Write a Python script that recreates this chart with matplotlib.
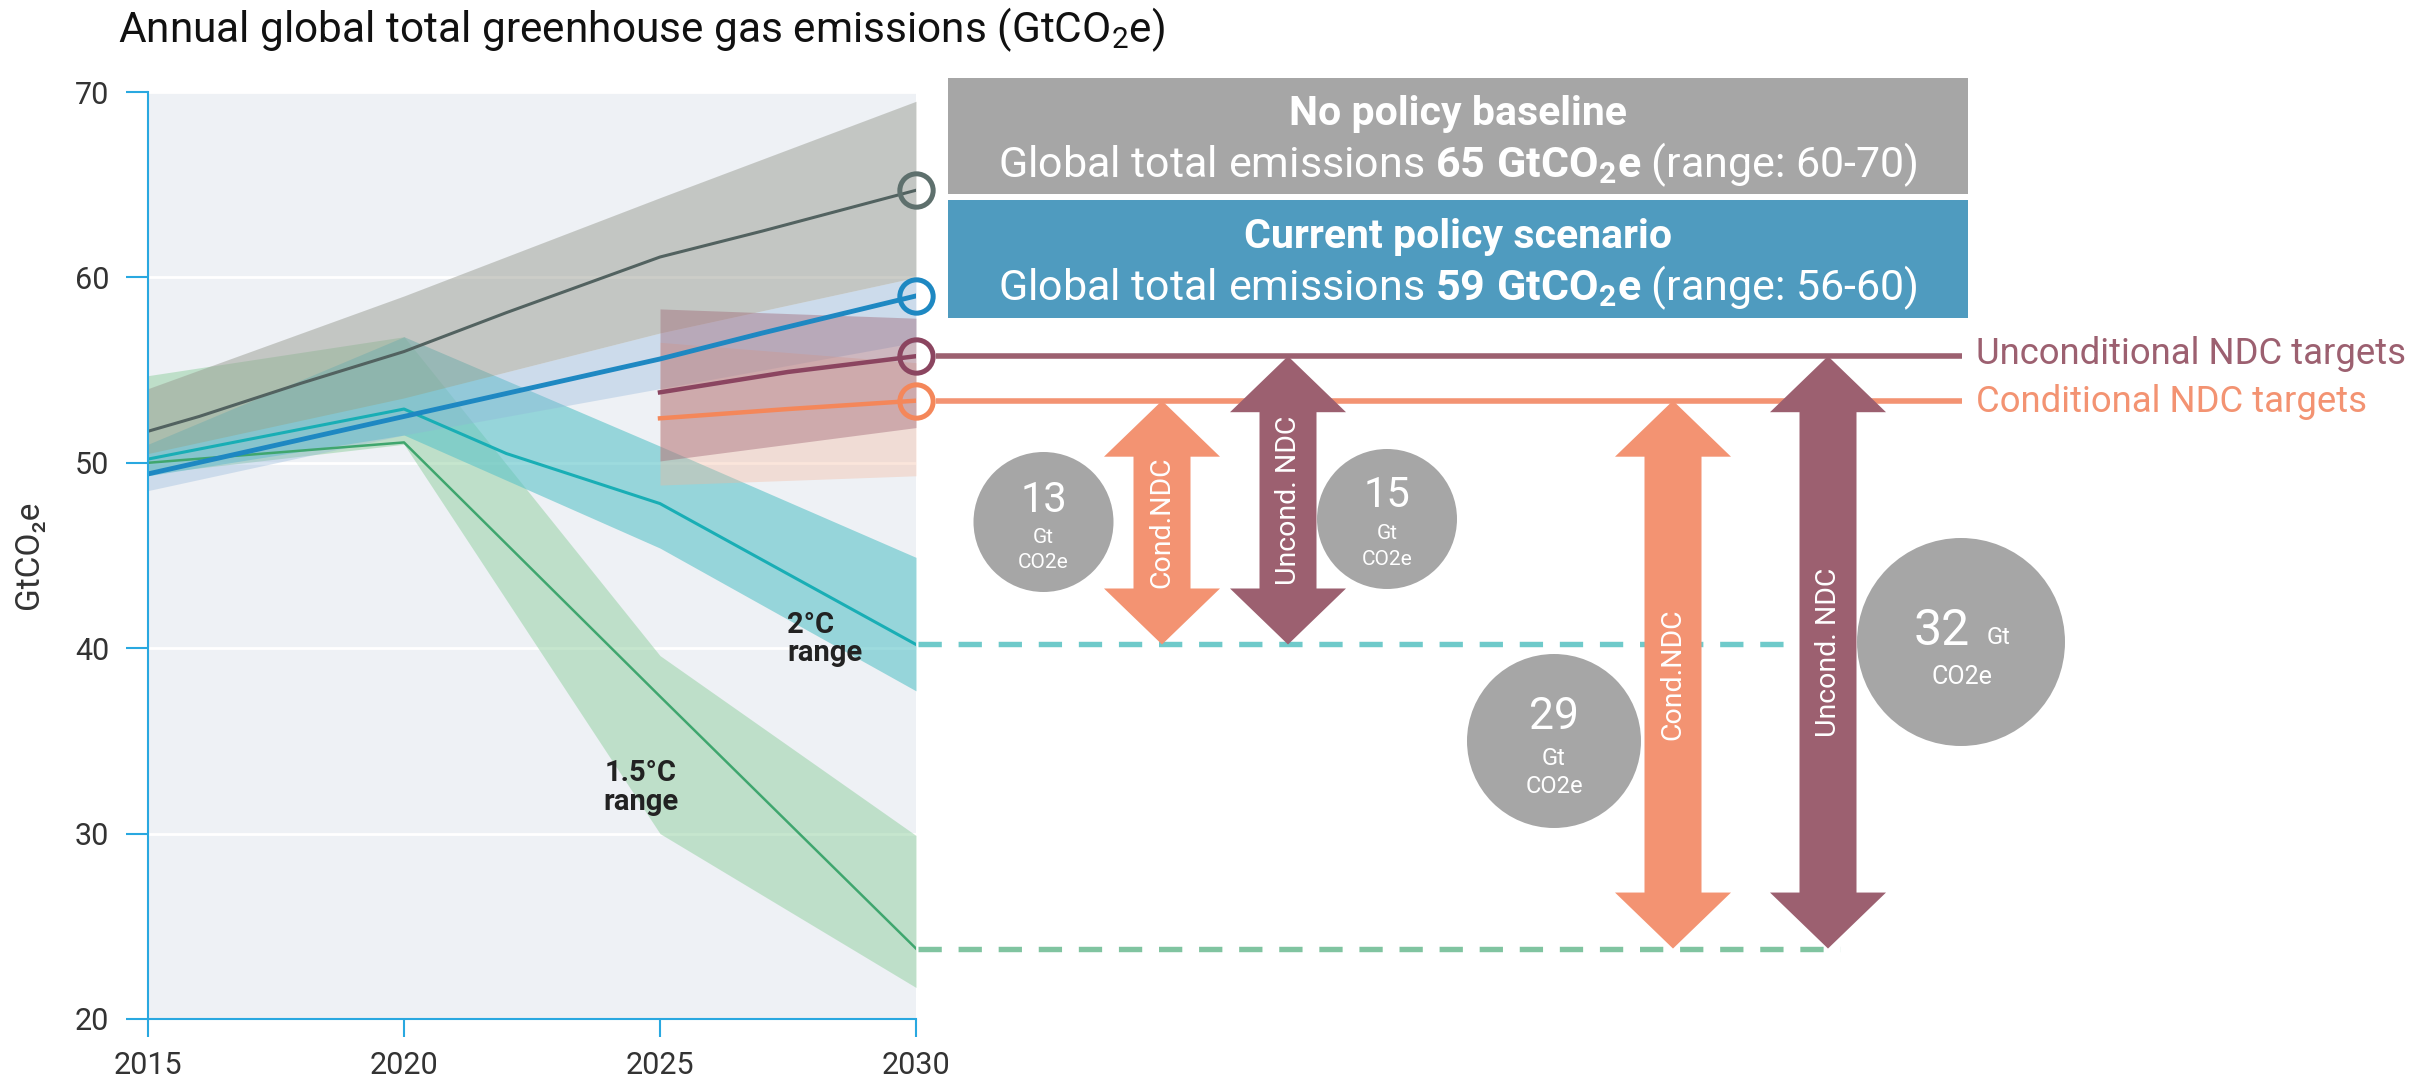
import matplotlib
matplotlib.use("Agg")
import matplotlib.pyplot as plt
from matplotlib.patches import Rectangle, Ellipse, Polygon

plt.rcParams['font.family'] = ['Roboto', 'DejaVu Sans']
plt.rcParams['mathtext.fontset'] = 'custom'
plt.rcParams['mathtext.rm'] = 'Roboto'
plt.rcParams['mathtext.bf'] = 'Roboto:bold'
plt.rcParams['mathtext.it'] = 'Roboto:italic'
plt.rcParams['mathtext.default'] = 'regular'

# ------------------------------- data ------------------------------- #
years_ticks = [2015, 2020, 2025, 2030]
band_years = [2015, 2020, 2025, 2030]

# no policy baseline
np_years = [2015, 2016, 2018, 2020, 2022, 2025, 2027, 2030]
no_policy = [51.7, 52.5, 54.3, 56.0, 58.1, 61.1, 62.5, 64.7]
no_policy_lo = [50.5, 53.5, 57.0, 60.0]
no_policy_hi = [54.0, 59.0, 64.3, 69.5]

# current policy
cur_years = [2015, 2020, 2025, 2027, 2030]
current = [49.4, 52.5, 55.6, 57.0, 59.0]
current_lo = [48.5, 51.5, 54.0, 56.5]
current_hi = [50.5, 53.5, 57.0, 60.0]

# 2 degC pathway
two_years = [2015, 2020, 2022, 2025, 2030]
two_deg = [50.2, 52.9, 50.5, 47.8, 40.2]
two_lo = [49.3, 51.5, 45.4, 37.7]
two_hi = [51.0, 56.8, 50.9, 44.9]

# 1.5 degC pathway
one5_years = [2015, 2020, 2025, 2030]
one5 = [50.0, 51.1, 37.4, 23.8]
one5_lo = [49.4, 51.0, 30.0, 21.7]
one5_hi = [54.7, 56.8, 39.6, 29.9]

# NDC scenarios
ndc_years = [2025, 2027.5, 2030]
uncond = [53.8, 54.9, 55.75]
cond = [52.4, 52.9, 53.35]
ndc_band_years = [2025, 2030]
uncond_lo = [50.1, 51.9]
uncond_hi = [58.3, 57.8]
cond_lo = [48.8, 49.3]
cond_hi = [56.5, 55.4]

gap_labels = ['13', '15', '29', '32']

# ------------------------------ colours ----------------------------- #
C_AXIS = '#29a8e0'
C_GREY_LINE = '#526260'
C_BLUE = '#1e88c2'
C_TEAL = '#19aeb5'
C_GREEN = '#3fa66e'
C_UNCOND = '#9c6070'
C_COND = '#f39372'
C_BUBBLE = '#a6a6a6'
C_BOX_BLUE = '#4f9bbf'

# ------------------------------ layout ------------------------------ #
W, H = 2422, 1078
X0, X1 = 148, 916        # pixel x of 2015 and 2030
YT, YB = 92, 1019        # pixel y of 70 and 20
PX_PER_UNIT = (YB - YT) / 50.0


def py2y(py):
    """pixel row -> data value (GtCO2e)"""
    return 70 - (py - YT) / PX_PER_UNIT


fig = plt.figure(figsize=(W / 100, H / 100), dpi=100)
ax = fig.add_axes([X0 / W, 1 - YB / H, (X1 - X0) / W, (YB - YT) / H])
ax.set_xlim(2015, 2030)
ax.set_ylim(20, 70)
ax.set_facecolor('#eef1f5')
for s in ['top', 'right']:
    ax.spines[s].set_visible(False)
for s in ['left', 'bottom']:
    ax.spines[s].set_color(C_AXIS)
    ax.spines[s].set_linewidth(1.5)
ax.set_xticks(years_ticks)
ax.set_yticks([20, 30, 40, 50, 60, 70])
ax.tick_params(axis='y', length=16, width=1.5, color=C_AXIS, labelsize=22,
               labelcolor='#333333', pad=12)
ax.tick_params(axis='x', length=13, width=1.5, color=C_AXIS, labelsize=22,
               labelcolor='#333333', pad=10)
ax.grid(axis='y', color='white', lw=2)
ax.grid(axis='x', visible=False)
ax.set_axisbelow(True)

# ranges
ax.fill_between(band_years, one5_lo, one5_hi, color='#8fcf9f', alpha=0.5, lw=0)
ax.fill_between(band_years, two_lo, two_hi, color='#5cc3c8', alpha=0.6, lw=0)
ax.fill_between(band_years, current_lo, current_hi, color='#8fb4d9', alpha=0.35, lw=0)
ax.fill_between(band_years, no_policy_lo, no_policy_hi, color='#9a9d93', alpha=0.5, lw=0)
ax.fill_between(ndc_band_years, cond_lo, cond_hi, color='#f4b69a', alpha=0.35, lw=0)
ax.fill_between(ndc_band_years, uncond_lo, uncond_hi, color='#9c6070', alpha=0.4, lw=0)

# pathways
ax.plot(one5_years, one5, color=C_GREEN, lw=1.8)
ax.plot(two_years, two_deg, color=C_TEAL, lw=2.2)
ax.plot(np_years, no_policy, color=C_GREY_LINE, lw=2.2)
ax.plot(cur_years, current, color=C_BLUE, lw=3.5)
ax.plot(ndc_years, uncond, color='#8b4560', lw=3.2)
ax.plot(ndc_years, cond, color='#f4875a', lw=3.2)

for series, col in [(no_policy, '#5e706d'), (current, C_BLUE),
                    (uncond, '#8b4560'), (cond, '#f4875a')]:
    ax.plot(2030, series[-1], 'o', ms=24, mfc='none', mec=col, mew=3.6,
            clip_on=False, zorder=5)

ax.text(2027.48, py2y(633), '2°C', fontsize=21, fontweight='bold', color='#222222')
ax.text(2027.48, py2y(661), 'range', fontsize=21, fontweight='bold', color='#222222')
ax.text(2024.63, py2y(781), '1.5°C', fontsize=21, fontweight='bold', color='#222222', ha='center')
ax.text(2024.63, py2y(810), 'range', fontsize=21, fontweight='bold', color='#222222', ha='center')

fig.text(118 / W, 1 - 42 / H, 'Annual global total greenhouse gas emissions (GtCO$_2$e)',
         fontsize=30.5, color='#111111', ha='left', va='baseline')
fig.text(29 / W, 1 - 555 / H, 'GtCO₂e', fontsize=24, color='#333333', rotation=90,
         ha='center', va='center')

# ----------------------- right-hand annotations ----------------------- #
ax2 = fig.add_axes([X1 / W, 1 - YB / H, (W - X1) / W, (YB - YT) / H])
ax2.set_xlim(X1, W)
ax2.set_ylim(20, 70)
ax2.axis('off')
ax2.patch.set_alpha(0)

# scenario boxes
ax2.add_patch(Rectangle((947.5, py2y(194)), 1020.5, (194 - 78.3) / PX_PER_UNIT,
                        color=C_BUBBLE, lw=0, clip_on=False))
ax2.add_patch(Rectangle((947.5, py2y(317.7)), 1020.5, (317.7 - 200) / PX_PER_UNIT,
                        color=C_BOX_BLUE, lw=0, clip_on=False))
bx = (947.5 + 1968) / 2
ax2.text(bx, py2y(125), 'No policy baseline', fontsize=29.5, fontweight='bold',
         color='white', ha='center', va='baseline', clip_on=False)
ax2.text(bx, py2y(177),
         r'Global total emissions $\mathbf{%d\ GtCO_2e}$ (range: %d-%d)'
         % (round(no_policy[-1]), 60, 70),
         fontsize=31, color='white', ha='center', va='baseline', clip_on=False)
ax2.text(bx, py2y(248.3), 'Current policy scenario', fontsize=29.5, fontweight='bold',
         color='white', ha='center', va='baseline', clip_on=False)
ax2.text(bx, py2y(300),
         r'Global total emissions $\mathbf{%d\ GtCO_2e}$ (range: %d-%d)'
         % (round(current[-1]), 56, 60),
         fontsize=31, color='white', ha='center', va='baseline', clip_on=False)

# target lines
ax2.plot([936, 1962], [uncond[-1]] * 2, color=C_UNCOND, lw=4, solid_capstyle='butt')
ax2.plot([936, 1962], [cond[-1]] * 2, color=C_COND, lw=4, solid_capstyle='butt')
ax2.text(1976, py2y(364), 'Unconditional NDC targets', fontsize=26.3, color=C_UNCOND,
         va='baseline', clip_on=False)
ax2.text(1976, py2y(412), 'Conditional NDC targets', fontsize=26.3, color=C_COND,
         va='baseline', clip_on=False)

# pathway levels in 2030
ax2.plot([918, 1828], [two_deg[-1]] * 2, color='#6fcaca', lw=3.9, dashes=(4.3, 3.1))
ax2.plot([918, 1840], [one5[-1]] * 2, color='#80c4a0', lw=3.9, dashes=(4.3, 3.1))


def double_arrow(xc, y_lo, y_hi, color, shaft=57, head=116, head_px=56):
    hl = head_px / PX_PER_UNIT
    pts = [(xc, y_hi), (xc + head / 2, y_hi - hl), (xc + shaft / 2, y_hi - hl),
           (xc + shaft / 2, y_lo + hl), (xc + head / 2, y_lo + hl), (xc, y_lo),
           (xc - head / 2, y_lo + hl), (xc - shaft / 2, y_lo + hl),
           (xc - shaft / 2, y_hi - hl), (xc - head / 2, y_hi - hl)]
    ax2.add_patch(Polygon(pts, closed=True, color=color, lw=0, zorder=4))


arrows = [
    (1162, two_deg[-1], cond[-1], C_COND, 'Cond.NDC'),
    (1288, two_deg[-1], uncond[-1], C_UNCOND, 'Uncond. NDC'),
    (1673, one5[-1], cond[-1], C_COND, 'Cond.NDC'),
    (1828, one5[-1], uncond[-1], C_UNCOND, 'Uncond. NDC'),
]
for xc, lo, hi, col, lab in arrows:
    double_arrow(xc, lo, hi, col)
    ax2.text(xc, (lo + hi) / 2, lab, rotation=90, ha='center', va='center',
             fontsize=20.5, color='white', zorder=5)

# bubbles: (x px, centre y px, diameter px)
bubbles = [(1043.5, 522, 140), (1387, 519, 140), (1554, 741, 174), (1961, 642, 208)]
for (bxc, byc, d) in bubbles:
    ax2.add_patch(Ellipse((bxc, py2y(byc)), d, d / PX_PER_UNIT, color=C_BUBBLE,
                          lw=0, zorder=3, clip_on=False))

txt = dict(color='white', ha='center', va='baseline', zorder=6)
ax2.text(1043.5, py2y(511.7), gap_labels[0], fontsize=30, **txt)
ax2.text(1043.5, py2y(543), 'Gt', fontsize=15, **txt)
ax2.text(1043.5, py2y(568), 'CO2e', fontsize=15, **txt)
ax2.text(1387, py2y(507), gap_labels[1], fontsize=30, **txt)
ax2.text(1387, py2y(539), 'Gt', fontsize=15, **txt)
ax2.text(1387, py2y(565), 'CO2e', fontsize=15, **txt)
ax2.text(1554, py2y(729), gap_labels[2], fontsize=32, **txt)
ax2.text(1554, py2y(764.6), 'Gt', fontsize=17, **txt)
ax2.text(1554, py2y(793), 'CO2e', fontsize=17, **txt)
ax2.text(1941.5, py2y(645), gap_labels[3], fontsize=36, **txt)
ax2.text(1998.5, py2y(644), 'Gt', fontsize=17, **txt)
ax2.text(1961.5, py2y(684), 'CO2e', fontsize=18, **txt)

fig.savefig('out.png', dpi=100, facecolor='white')
